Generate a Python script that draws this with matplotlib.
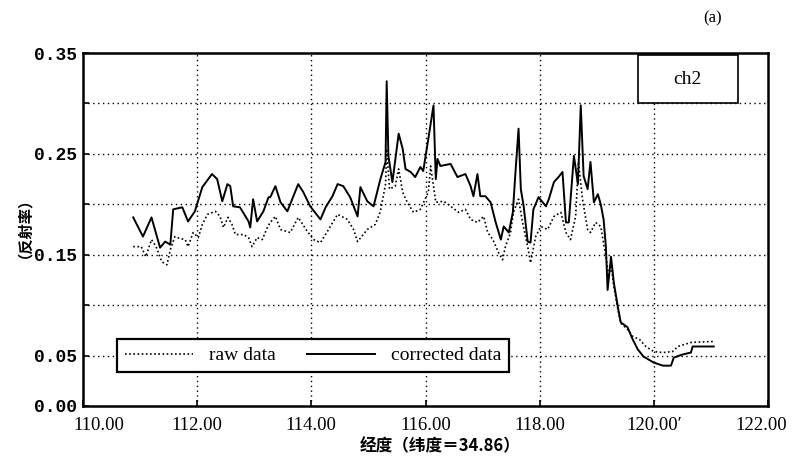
import numpy as np
import matplotlib
matplotlib.use("Agg")
import matplotlib.pyplot as plt
import matplotlib.transforms as mtransforms
from matplotlib.patches import Rectangle

# corrected data (solid) - longitude, reflectance
lon_corr = [110.88, 111.05, 111.2, 111.35, 111.44, 111.53, 111.58, 111.74, 111.84, 111.96,
            112.09, 112.26, 112.35, 112.44, 112.53, 112.58, 112.63, 112.75, 112.9, 112.93,
            112.98, 113.05, 113.16, 113.25, 113.28, 113.37, 113.46, 113.58, 113.77, 113.86,
            113.98, 114.16, 114.25, 114.37, 114.46, 114.56, 114.68, 114.81, 114.86, 114.98,
            115.09, 115.21, 115.3, 115.32, 115.35, 115.42, 115.53, 115.6, 115.65, 115.74,
            115.82, 115.91, 115.96, 116.05, 116.14, 116.18, 116.21, 116.26, 116.44, 116.56,
            116.7, 116.79, 116.84, 116.91, 116.96, 117.05, 117.14, 117.23, 117.32, 117.37,
            117.46, 117.53, 117.58, 117.63, 117.67, 117.72, 117.79, 117.84, 117.89, 117.98,
            118.11, 118.16, 118.25, 118.33, 118.4, 118.46, 118.51, 118.6, 118.67, 118.72,
            118.77, 118.84, 118.89, 118.95, 119.02, 119.07, 119.12, 119.16, 119.19, 119.25,
            119.3, 119.37, 119.42, 119.54, 119.63, 119.72, 119.82, 120.0, 120.16, 120.3,
            120.35, 120.5, 120.65, 120.68, 121.05]
val_corr = [0.187, 0.168, 0.187, 0.157, 0.163, 0.160, 0.195, 0.197, 0.183, 0.193,
            0.217, 0.230, 0.225, 0.203, 0.220, 0.218, 0.198, 0.197, 0.183, 0.177,
            0.205, 0.183, 0.193, 0.207, 0.207, 0.218, 0.202, 0.193, 0.220, 0.212,
            0.198, 0.185, 0.197, 0.208, 0.220, 0.218, 0.207, 0.188, 0.217, 0.203,
            0.198, 0.225, 0.242, 0.322, 0.248, 0.222, 0.270, 0.255, 0.235, 0.232,
            0.227, 0.237, 0.233, 0.265, 0.298, 0.225, 0.245, 0.238, 0.240, 0.227,
            0.230, 0.218, 0.208, 0.230, 0.208, 0.208, 0.202, 0.182, 0.165, 0.178,
            0.172, 0.192, 0.235, 0.275, 0.215, 0.198, 0.163, 0.162, 0.195, 0.207,
            0.198, 0.205, 0.222, 0.227, 0.232, 0.182, 0.182, 0.248, 0.220, 0.298,
            0.228, 0.215, 0.242, 0.202, 0.210, 0.200, 0.185, 0.158, 0.115, 0.148,
            0.122, 0.098, 0.083, 0.078, 0.066, 0.056, 0.049, 0.043, 0.040, 0.040,
            0.048, 0.051, 0.053, 0.059, 0.059]

# raw data (dotted)
lon_raw = [110.88, 111.02, 111.1, 111.2, 111.28, 111.38, 111.47, 111.53, 111.61, 111.7,
           111.79, 111.84, 111.93, 112.02, 112.09, 112.18, 112.32, 112.4, 112.46, 112.54,
           112.61, 112.67, 112.81, 112.9, 112.96, 113.05, 113.14, 113.23, 113.28, 113.37,
           113.46, 113.63, 113.77, 113.93, 114.04, 114.16, 114.28, 114.46, 114.63, 114.74,
           114.81, 114.98, 115.12, 115.21, 115.3, 115.32, 115.37, 115.47, 115.53, 115.6,
           115.68, 115.79, 115.91, 116.05, 116.09, 116.18, 116.32, 116.44, 116.58, 116.7,
           116.79, 116.91, 117.02, 117.09, 117.18, 117.28, 117.35, 117.4, 117.49, 117.54,
           117.63, 117.7, 117.79, 117.84, 117.93, 118.02, 118.14, 118.25, 118.37, 118.46,
           118.54, 118.63, 118.68, 118.75, 118.84, 118.89, 118.98, 119.07, 119.16, 119.21,
           119.25, 119.3, 119.37, 119.42, 119.54, 119.63, 119.75, 119.86, 120.0, 120.16,
           120.33, 120.42, 120.65, 121.05]
val_raw = [0.158, 0.158, 0.148, 0.165, 0.158, 0.143, 0.140, 0.155, 0.168, 0.166,
           0.165, 0.158, 0.172, 0.167, 0.180, 0.190, 0.193, 0.188, 0.177, 0.187,
           0.180, 0.170, 0.170, 0.167, 0.158, 0.167, 0.165, 0.177, 0.182, 0.188,
           0.175, 0.172, 0.187, 0.173, 0.165, 0.162, 0.173, 0.190, 0.185, 0.175,
           0.163, 0.175, 0.180, 0.193, 0.220, 0.255, 0.215, 0.218, 0.235, 0.212,
           0.202, 0.192, 0.195, 0.212, 0.238, 0.202, 0.203, 0.198, 0.192, 0.195,
           0.185, 0.182, 0.188, 0.172, 0.165, 0.152, 0.145, 0.158, 0.172, 0.192,
           0.205, 0.182, 0.158, 0.142, 0.168, 0.178, 0.175, 0.188, 0.192, 0.172,
           0.165, 0.188, 0.242, 0.205, 0.175, 0.172, 0.182, 0.178, 0.148, 0.128,
           0.140, 0.118, 0.096, 0.082, 0.076, 0.069, 0.066, 0.059, 0.054, 0.053,
           0.054, 0.059, 0.063, 0.064]

yticks = [0.0, 0.05, 0.10, 0.15, 0.20, 0.25, 0.30, 0.35]
ylabels = ['0.00', '0.05', '', '0.15', '', '0.25', '', '0.35']
xticks = [110, 112, 114, 116, 118, 120, 122]
xlabels = ['110.00', '112.00', '114.00', '116.00', '118.00', '120.00\u2032', '122.00']

cjk = ['Noto Sans CJK SC', 'DejaVu Sans']

fig = plt.figure(figsize=(7.92, 4.62), dpi=100)
ax = fig.add_axes([83/792, 1 - 406/462, 685/792, 353/462])

ax.plot(lon_raw, val_raw, color='black', lw=1.2, ls=(0, (1, 1.5)), label='raw data')
ax.plot(lon_corr, val_corr, color='black', lw=1.4, label='corrected data')

ax.set_xlim(110, 122)
ax.set_ylim(0, 0.35)
ax.set_xticks(xticks)
ax.set_xticklabels(xlabels, family='Liberation Serif', fontsize=13.5)
ax.set_yticks(yticks)
ax.set_yticklabels(ylabels, family='Liberation Mono', fontsize=13, fontweight='bold')
ax.tick_params(direction='in', length=4, width=1.2)
ax.tick_params(axis='x', pad=8)
ax.tick_params(axis='y', pad=4)
# end labels are nudged inward, as in the original
xtl = ax.get_xticklabels()
xtl[0].set_transform(xtl[0].get_transform() + mtransforms.ScaledTranslation(16/100, 0, fig.dpi_scale_trans))
xtl[-1].set_transform(xtl[-1].get_transform() + mtransforms.ScaledTranslation(-7/100, 0, fig.dpi_scale_trans))

for y in yticks[1:-1]:
    ax.axhline(y, color='black', lw=1.0, ls=(0, (1, 2.5)), zorder=0)
for x in xticks[1:-1]:
    ax.axvline(x, color='black', lw=1.0, ls=(0, (1, 2.5)), zorder=0)

for s in ax.spines.values():
    s.set_linewidth(1.8)

leg = ax.legend(loc='lower left', bbox_to_anchor=(0.05, 0.096, 0.572, 0.12), mode='expand',
                ncol=2, fancybox=False, edgecolor='black', framealpha=1,
                prop={'family': 'Liberation Serif', 'size': 14}, handlelength=3.5,
                borderaxespad=0, columnspacing=3)
leg.get_frame().set_linewidth(1.6)

# ch2 label box
ax.add_patch(Rectangle((0.81, 0.858), 0.146, 0.136, transform=ax.transAxes,
                       fc='white', ec='black', lw=1.2, zorder=5))
ax.text(0.883, 0.926, 'ch2', transform=ax.transAxes, ha='center', va='center',
        family='Liberation Serif', fontsize=14, zorder=6)

fig.text(713/792, 1 - 18/462, '(a)', ha='center', va='center', family='Liberation Serif', fontsize=12)
fig.text(16/792, 1 - 220/462, '（反射率）', rotation=90, ha='center', va='center',
         family=cjk, fontsize=11, fontweight='bold')
fig.text(440/792, 1 - 446/462, '经度（纬度＝34.86）', ha='center', va='center',
         family=cjk, fontsize=12, fontweight='bold')

fig.savefig('out.png', dpi=100)
